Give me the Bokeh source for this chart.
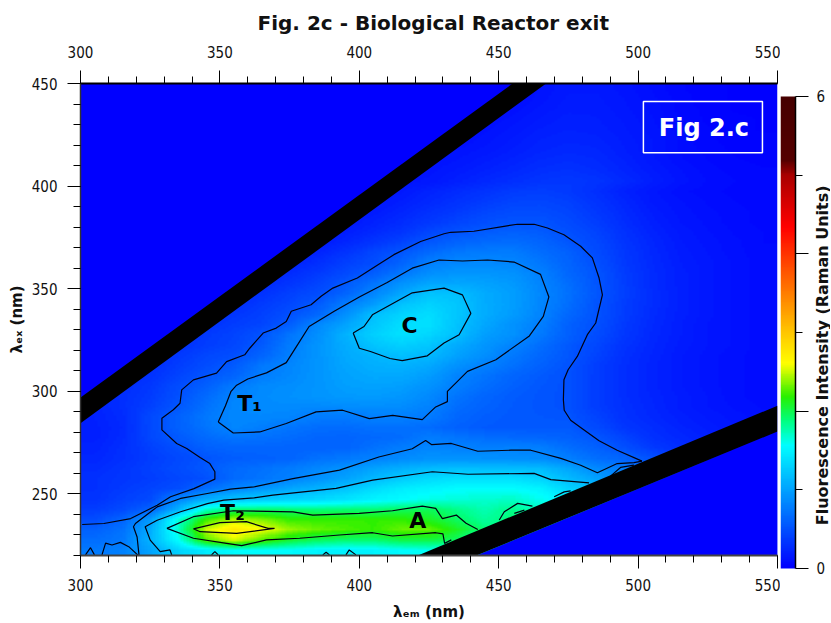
import numpy as np
from bokeh.core.properties import value
from bokeh.embed import file_html
from bokeh.layouts import row
from bokeh.models import FixedTicker, Label, LinearAxis, LinearColorMapper, Range1d, BoxAnnotation
from bokeh.plotting import figure
from bokeh.resources import INLINE

TITLE = "Fig. 2c - Biological Reactor exit"
CB_TITLE = "Fluorescence Intensity (Raman Units)"
EM_TICKS = [300, 350, 400, 450, 500, 550]
EX_TICKS = [250, 300, 350, 400, 450]
CB_TICKS = [0, 2, 4, 6]

# Fluorescence: rows from ex 447.5 down to 222.5 (5 nm), columns em 305..545 (10 nm)
INTENSITY = [
[.02,.02,.02,.02,.02,.02,.02,.02,.02,.02,.02,.02,.02,.02,.03,.06,.12,.16,.16,.13,.09,.05,.03,.02,.01],
[.02,.02,.02,.02,.02,.02,.02,.02,.02,.02,.02,.02,.03,.03,.04,.08,.13,.17,.17,.14,.10,.06,.03,.02,.01],
[.02,.02,.02,.02,.02,.02,.02,.02,.02,.02,.02,.03,.03,.04,.06,.10,.15,.18,.18,.15,.11,.06,.04,.02,.02],
[.02,.02,.02,.02,.02,.02,.02,.02,.02,.02,.03,.03,.04,.05,.08,.13,.17,.20,.19,.16,.12,.07,.04,.03,.02],
[.02,.02,.02,.02,.02,.02,.02,.02,.02,.02,.03,.04,.05,.07,.11,.15,.19,.21,.20,.17,.13,.08,.05,.03,.02],
[.02,.02,.02,.02,.02,.02,.02,.02,.02,.02,.04,.05,.07,.09,.13,.17,.21,.23,.22,.18,.14,.09,.05,.04,.03],
[.02,.02,.02,.02,.02,.02,.02,.02,.02,.02,.05,.07,.09,.12,.15,.19,.23,.25,.24,.19,.14,.09,.06,.04,.03],
[.02,.02,.02,.02,.02,.02,.02,.02,.02,.02,.06,.08,.11,.14,.18,.22,.26,.28,.26,.21,.15,.10,.07,.05,.04],
[.02,.02,.02,.02,.02,.02,.02,.02,.02,.02,.07,.10,.13,.17,.21,.25,.29,.31,.28,.23,.17,.12,.08,.06,.05],
[.02,.02,.02,.02,.02,.02,.02,.02,.02,.06,.08,.12,.15,.20,.25,.29,.33,.35,.32,.26,.19,.13,.09,.07,.05],
[.02,.02,.02,.02,.02,.02,.02,.02,.02,.08,.12,.16,.22,.27,.32,.37,.39,.36,.29,.21,.15,.10,.08,.06,.05],
[.02,.02,.02,.02,.02,.02,.03,.05,.07,.10,.14,.19,.25,.31,.37,.42,.43,.40,.32,.24,.16,.12,.09,.07,.05],
[.02,.02,.02,.02,.02,.03,.04,.06,.09,.13,.17,.23,.30,.36,.43,.47,.47,.43,.35,.26,.18,.13,.10,.08,.06],
[.02,.02,.02,.02,.03,.04,.05,.07,.11,.15,.21,.27,.35,.42,.49,.52,.52,.46,.38,.28,.20,.14,.11,.08,.06],
[.02,.02,.02,.03,.04,.05,.07,.09,.12,.19,.26,.33,.44,.52,.57,.60,.57,.50,.42,.31,.22,.16,.12,.09,.07],
[.02,.02,.03,.04,.05,.07,.09,.12,.17,.24,.33,.42,.54,.62,.66,.68,.63,.54,.45,.33,.24,.17,.13,.10,.07],
[.02,.03,.04,.05,.07,.08,.10,.16,.22,.32,.44,.53,.66,.74,.77,.77,.68,.60,.47,.35,.25,.18,.14,.10,.08],
[.03,.04,.05,.07,.08,.10,.14,.21,.29,.40,.48,.62,.79,.84,.85,.83,.74,.62,.50,.36,.26,.19,.15,.11,.08],
[.04,.05,.07,.08,.09,.14,.19,.27,.36,.46,.58,.74,.88,.93,.93,.90,.80,.64,.53,.38,.27,.20,.15,.11,.08],
[.05,.06,.08,.09,.13,.18,.25,.33,.42,.55,.72,.90,1.02,1.03,1.0,.95,.82,.68,.53,.39,.27,.20,.15,.11,.08],
[.06,.07,.08,.12,.17,.23,.31,.40,.48,.62,.82,1.02,1.20,1.18,1.05,.98,.84,.70,.54,.40,.28,.20,.15,.11,.08],
[.07,.09,.11,.15,.21,.28,.37,.44,.56,.78,.96,1.20,1.30,1.22,1.06,.98,.83,.68,.52,.38,.28,.20,.15,.11,.08],
[.08,.10,.14,.18,.26,.34,.40,.50,.64,.88,1.17,1.30,1.36,1.22,1.06,.96,.82,.64,.52,.38,.27,.20,.15,.11,.08],
[.09,.12,.17,.22,.31,.38,.43,.58,.84,1.0,1.22,1.36,1.38,1.20,1.03,.90,.79,.60,.50,.36,.26,.19,.14,.11,.08],
[.10,.14,.20,.27,.36,.42,.52,.72,.88,1.10,1.28,1.38,1.32,1.18,.98,.90,.75,.60,.48,.35,.25,.19,.14,.11,.08],
[.13,.17,.23,.31,.38,.44,.56,.77,.92,1.06,1.20,1.28,1.22,1.05,.93,.81,.68,.55,.44,.32,.24,.18,.14,.11,.08],
[.15,.19,.26,.35,.44,.49,.62,.79,.92,1.04,1.12,1.18,1.14,1.0,.88,.75,.64,.54,.42,.30,.23,.17,.13,.10,.08],
[.16,.21,.28,.38,.48,.56,.74,.83,.92,1.02,1.08,1.10,1.04,.90,.80,.70,.60,.52,.38,.29,.22,.17,.13,.10,.08],
[.18,.24,.31,.42,.53,.62,.78,.84,.92,1.0,1.04,1.04,.97,.82,.72,.63,.56,.50,.38,.29,.22,.17,.13,.10,.08],
[.20,.27,.35,.48,.60,.76,.85,.88,.92,.98,1.0,.98,.90,.78,.68,.60,.54,.50,.38,.29,.22,.17,.13,.10,.08],
[.22,.29,.37,.50,.66,.81,.86,.89,.92,.95,.96,.93,.85,.72,.63,.57,.53,.50,.38,.29,.23,.18,.14,.10,.08],
[.22,.29,.40,.54,.70,.84,.86,.86,.85,.87,.88,.87,.81,.68,.61,.56,.53,.50,.38,.30,.24,.18,.14,.11,.09],
[.21,.27,.45,.60,.74,.84,.84,.82,.76,.75,.79,.79,.76,.64,.58,.55,.54,.53,.42,.31,.25,.20,.16,.13,.10],
[.20,.26,.45,.60,.72,.83,.78,.72,.68,.67,.70,.70,.67,.60,.56,.55,.55,.56,.46,.34,.28,.22,.18,.14,.11],
[.20,.27,.44,.56,.66,.72,.70,.67,.63,.62,.65,.67,.77,.72,.68,.65,.63,.60,.54,.42,.30,.25,.20,.16,.12],
[.22,.29,.40,.50,.60,.63,.63,.62,.61,.62,.70,.77,.83,.80,.79,.80,.78,.68,.60,.50,.36,.28,.22,.18,.14],
[.24,.30,.38,.45,.53,.58,.60,.62,.70,.74,.80,.85,.90,.90,.89,.88,.86,.78,.68,.62,.50,.40,.30,.22,.16],
[.27,.33,.40,.47,.55,.65,.70,.76,.84,.91,1.0,1.08,1.15,1.18,1.17,1.17,1.15,1.02,.85,.78,.60,.5,.4,.3,.2],
[.30,.34,.38,.44,.50,.66,.72,.80,.90,1.0,1.14,1.25,1.34,1.38,1.38,1.38,1.30,1.15,1.0,.8,.6,.5,.4,.3,.2],
[.30,.36,.42,.48,.68,.82,.92,1.02,1.1,1.2,1.34,1.45,1.5,1.55,1.55,1.55,1.5,1.3,1.2,.8,.6,.5,.4,.3,.2],
[.32,.40,.46,.82,1.08,1.2,1.25,1.3,1.34,1.4,1.5,1.55,1.62,1.65,1.68,1.7,1.6,1.5,1.2,.8,.6,.5,.4,.3,.2],
[.38,.46,.62,1.1,1.7,1.9,1.92,1.9,1.88,1.9,1.9,1.95,1.97,1.85,1.75,1.85,1.7,1.5,1.2,.8,.6,.5,.4,.3,.2],
[.48,.62,.95,1.65,2.2,2.45,2.35,2.2,2.2,2.2,2.2,2.2,2.1,1.95,1.8,1.9,1.7,1.5,1.2,.8,.6,.5,.4,.3,.2],
[.6,.7,1.05,1.7,2.5,2.75,2.6,2.4,2.3,2.25,2.2,2.3,2.3,2.1,1.9,1.7,1.6,1.5,1.2,.8,.6,.5,.4,.3,.2],
[.68,.74,1.1,1.55,2.25,2.5,2.25,2.05,1.95,1.9,1.9,2.0,2.0,1.95,1.6,1.5,1.4,1.3,1.1,.8,.6,.5,.4,.3,.2],
[.75,.8,1.0,1.3,1.45,1.55,1.55,1.55,1.5,1.48,1.5,1.55,1.6,1.6,1.6,1.5,1.4,1.3,1.1,.8,.6,.5,.4,.3,.2],
]

# Contour traces
C_OUTER_EM = [501.4,492.5,486,480,475.8,473.5,473.2,473.4,474.9,478.2,481.8,484.8,487.2,486,483.6,479.4,473.4,467.5,462.7,456.7,451.9,441.1,432.8,430.4,422,412.4,407.7,399.3,390.5,386.3,382.7,375.6,373.8,370.2,365.5,360.7,358.9,352.4,348.8,340.5,336.3,335.7,333.3,329.2,329.2,334.5,338.1,342.9,346.4,348.2,348.2,340.7,332.3,327.5,318,308.4,300.6]
C_OUTER_EX = [266,271.3,275.9,281.8,285.9,290.8,295.9,305.6,310.5,317,327.6,333.3,347,355.2,365,370.7,376.3,379.6,381.4,381.4,380.4,378,377.5,376.8,373,366.6,362.5,355.2,350.3,346.3,342.2,339,334,330.8,328.4,321,317.8,314.5,308.9,305.6,300.7,294.2,291,286.9,281.2,274.6,272.1,267.7,264.8,260.8,257.2,252.6,248.6,244.5,238,235.6,235.1]
C_LOBE_EM = [349.4,352,354,356,360,366.7,373.8,378,382,391,400,410,419,428.6,437,446,455.5,465,468,466,461,449,438.8,431.6,431.6,427.4,422.6,412,403.6,394,384.5,373.8,364.3,354.8,349.4]
C_LOBE_EX = [285,293,300,303,306,309,314,323,331.6,339,346,353,360,364,363.5,364,363,357,346,336.5,327,315.4,309.7,300,295,292.4,286.2,288.3,286.7,290.8,290,284.3,280.2,279.7,285]
C_CORE_EM = [397.8,400,404,411,415.4,424.4,430.4,435.8,440,437,430.4,419,404.7,401.7,397.8]
C_CORE_EX = [328.4,321,319.4,316,315,317.3,323.5,327.6,338,347,350.3,348,337.3,331.6,328.4]
C_BAND1_EM = [321,320.3,319,319.7,323.9,327.5,335.9,345.5,353.8,362.2,376.2,392.9,407,419,423.8,426,433,442.5,454.4,461.5,472.3,479.4,485.4,492.5,498.5,501.4]
C_BAND1_EX = [220,229,234,235.6,240,243.7,247.8,250.2,252.3,253.4,257.5,261.6,268,272,276,274,274.6,270.8,271.3,271.3,267.3,264,260.3,264.8,265.3,266]
C_BAND2_EM = [332.7,332.1,328.6,325,323.2,327.5,335.9,345.5,351.4,362.2,369,391.7,404.8,426.2,439,462.7,468.7,482.4]
C_BAND2_EX = [220.3,222.7,221.9,227.5,234,237.2,241.3,245.3,247,248.1,249.4,252.7,256.7,260.8,259.6,260,257,255.4]
C_A_UP_EM = [331,340.5,354.8,376.2,383.3,400,411.9,422.6,427.4,429.8,434.8,438.3,442.5]
C_A_UP_EX = [233.2,238.9,241.8,241.3,239.7,240.5,241.8,244.1,243,238,239.7,235.7,232.7]
C_A_LOW_EM = [331,340.5,352.4,357.8,366.7,378.6,392.9,404.8,411.9,427.4,430,430.6,433]
C_A_LOW_EX = [233.2,228.4,225.9,224.8,227.6,228.4,230,231.1,229.5,231.1,230.5,225.9,227.6]
C_T2_EM = [340.5,350,359.5,367.3,369.6,356,342.9,340.5]
C_T2_EX = [233,236,236.5,233.2,233.2,230.8,231.6,233]
C_SMALL_EM = [[301.8,303.6,305],[307.7,309,311.3,314.3,317.3,320.5],[347,348.2,349.4],[386.9,388.1,389.3],[395.2,396.4,398.8],[450.2,452,456.8,462.1],[455.6,459.2],[469.9,473.5,475.8],[490.1,493.7,498.5]]
C_SMALL_EX = [[220.3,223.8,220.3],[220.3,226,225.1,226.4,224.3,220.3],[220.3,221.9,220.3],[220.3,221.6,220.3],[220.3,222.7,220.3],[237.3,241.3,245.4,244.1],[240.5,242.1],[248.6,251,251.5],[258.7,262.9,264]]

# Scatter bands and the empty regions beyond them
BAND1_EM = [300, 467, 455, 300]
BAND1_EX = [284.5, 450, 450, 297]
BAND2_EM = [421, 550, 550, 442]
BAND2_EX = [220, 293, 280.4, 220]
EMPTY1_EM = [300, 455, 300]
EMPTY1_EX = [297, 450, 450]
EMPTY2_EM = [442, 550, 550]
EMPTY2_EX = [220, 280.4, 220]

PEAK_NAMES = ["T₁", "T₂", "C", "A"]
PEAK_EM = [360.6, 354.5, 418, 421]
PEAK_EX = [294, 241, 332, 237]

STOP_V = [0, 1.56, 1.87, 2.18, 2.6, 3.06, 4.35, 5.0, 5.2, 6]
STOP_R = [0, 0, 0, 40, 255, 255, 255, 170, 85, 70]
STOP_G = [0, 255, 255, 240, 255, 190, 0, 0, 0, 0]
STOP_B = [255, 255, 128, 0, 0, 0, 0, 0, 0, 0]

TICK_FONT = "DejaVu Sans Condensed"
BOLD_FONT = "DejaVu Sans"

vv = np.linspace(0, 6, 256)
palette = ["#%02x%02x%02x" % (int(np.interp(v, STOP_V, STOP_R)), int(np.interp(v, STOP_V, STOP_G)), int(np.interp(v, STOP_V, STOP_B))) for v in vv]
mapper = LinearColorMapper(palette=palette, low=0, high=6)

p = figure(frame_width=697, frame_height=472, output_backend="svg", toolbar_location=None,
           x_range=Range1d(300, 550), y_range=Range1d(220, 450),
           min_border_left=80, min_border_right=3, min_border_top=83, min_border_bottom=67,
           outline_line_color=None, background_fill_color="white", x_axis_location=None, y_axis_location=None)
p.grid.visible = False

# Smooth shading of the read grid for display only (the original chart is shaded, not blocky):
# the image glyph draws hard cells, so each read cell is shaded towards its neighbours.
read = np.array(INTENSITY, dtype=float)[::-1]
col_centres = np.arange(305, 546, 10.0)
row_centres = np.arange(222.5, 448, 5.0)
col_fine = np.arange(300.5, 550, 1.0)
row_fine = np.arange(220.5, 450, 1.0)
shaded = np.array([np.interp(col_fine, col_centres, r) for r in read])
shaded = np.array([np.interp(row_fine, row_centres, c) for c in shaded.T]).T
p.image(image=[shaded], x=300, y=220, dw=250, dh=230, color_mapper=mapper)

p.patch(EMPTY1_EM, EMPTY1_EX, color="#0000ff", line_width=0)
p.patch(EMPTY2_EM, EMPTY2_EX, color="#0000ff", line_width=0)

xs = [C_OUTER_EM, C_LOBE_EM, C_CORE_EM, C_BAND1_EM, C_BAND2_EM, C_A_UP_EM, C_A_LOW_EM, C_T2_EM] + C_SMALL_EM
ys = [C_OUTER_EX, C_LOBE_EX, C_CORE_EX, C_BAND1_EX, C_BAND2_EX, C_A_UP_EX, C_A_LOW_EX, C_T2_EX] + C_SMALL_EX
p.multi_line(xs, ys, line_color="#000010", line_width=1.2)

p.patch(BAND1_EM, BAND1_EX, color="black", line_width=0)
p.patch(BAND2_EM, BAND2_EX, color="black", line_width=0)

p.text(PEAK_EM, PEAK_EX, text=PEAK_NAMES, text_font=value(BOLD_FONT), text_font_style="bold",
       text_font_size="22px", text_color="black", text_align="center", text_baseline="middle")

def style(ax, color="#333333", width=1.5, standoff=10):
    ax.axis_line_color = color
    ax.axis_line_width = width
    ax.major_tick_line_color = "black"
    ax.minor_tick_line_color = "black"
    ax.major_tick_out = 13
    ax.major_tick_in = 0
    ax.minor_tick_out = 7
    ax.minor_tick_in = 0
    ax.major_label_text_font = TICK_FONT
    ax.major_label_text_font_size = "15px"
    ax.major_label_text_color = "#111111"
    ax.major_label_standoff = standoff
    ax.axis_label_text_font = BOLD_FONT
    ax.axis_label_text_font_style = "bold"
    ax.axis_label_text_font_size = "15px"
    ax.axis_label_text_color = "#111111"

em_ticker = FixedTicker(ticks=EM_TICKS, minor_ticks=list(range(300, 551, 10)))
ex_ticker = FixedTicker(ticks=EX_TICKS, minor_ticks=list(range(220, 451, 10)))
bottom = LinearAxis(ticker=em_ticker, axis_label="λₑₘ (nm)", axis_label_standoff=9)
style(bottom, "#444444", 2)
p.add_layout(bottom, "below")
top = LinearAxis(ticker=em_ticker)
style(top, "black", 2, standoff=13)
p.add_layout(top, "above")
left = LinearAxis(ticker=ex_ticker, axis_label="λₑₓ (nm)", axis_label_standoff=3)
style(left)
p.add_layout(left, "left")

p.title.text = TITLE
p.title.text_font = BOLD_FONT
p.title.text_font_style = "bold"
p.title.text_font_size = "20px"
p.title.text_color = "#111111"
p.title.align = "left"
p.title.offset = 177
p.title.standoff = 16

p.add_layout(BoxAnnotation(left=501.9, right=544.6, bottom=416.3, top=441.2, fill_alpha=0,
                           line_color="white", line_alpha=1, line_width=1.5))
p.add_layout(Label(x=523.6, y=428.5, text="Fig 2.c", text_color="white", text_font=BOLD_FONT, text_font_style="bold",
                   text_font_size="24px", text_align="center", text_baseline="middle"))

# Colour bar: the frame runs past the bar on all free sides (x is in pixels here), so that the
# rotated title can be centred freely and the end labels 0 and 6 are not cut by the frame
bar = figure(frame_width=50, frame_height=500, output_backend="svg", toolbar_location=None,
             x_range=Range1d(0, 50), y_range=Range1d(-0.1907, 6.1652),
             min_border_left=0, min_border_right=0, min_border_top=70, min_border_bottom=52,
             outline_line_color=None, background_fill_color="white", x_axis_location=None, y_axis_location=None)
bar.grid.visible = False
bar.image(image=[vv.reshape(-1, 1)], x=0, y=0, dw=15, dh=6, color_mapper=mapper)
cb_axis = LinearAxis(ticker=FixedTicker(ticks=CB_TICKS, minor_ticks=[1, 3, 5]), fixed_location=15, bounds=(0, 6),
                     major_label_overrides={0: "0", 2: "", 4: "", 6: "6"})
style(cb_axis, "black", 1.5, standoff=8)
bar.add_layout(cb_axis, "right")
bar.text([42], [2.71], text=[CB_TITLE], angle=np.pi / 2, text_font=value(BOLD_FONT), text_font_style="bold",
         text_font_size="16px", text_color="#111111", text_align="center", text_baseline="middle")

open("out.html", "w").write(file_html(row(p, bar), INLINE))
